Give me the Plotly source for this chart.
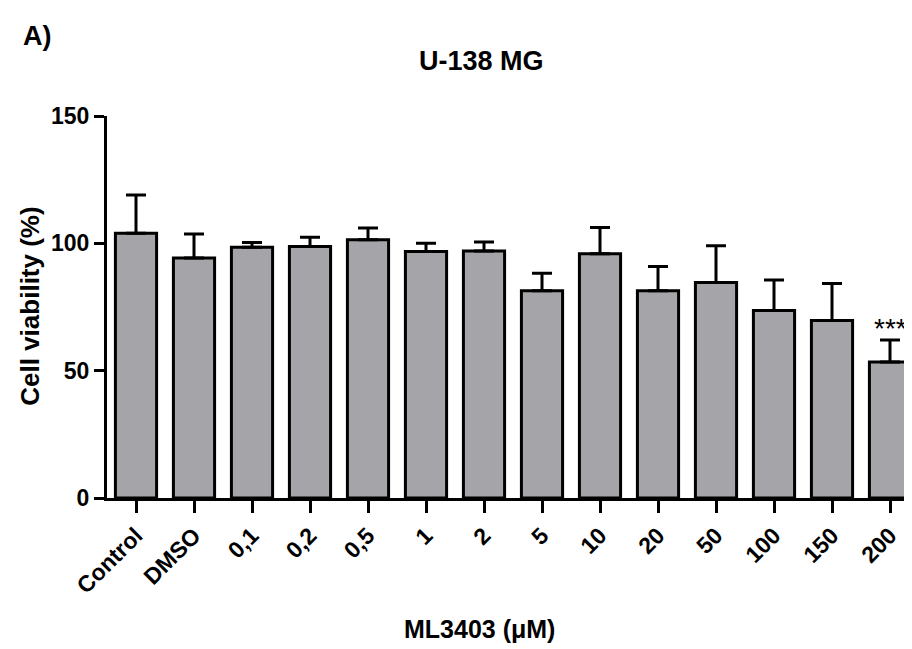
import plotly.graph_objects as go

categories = ["Control", "DMSO", "0,1", "0,2", "0,5", "1", "2", "5", "10", "20", "50", "100", "150", "200"]
viability = [104.0, 94.2, 98.5, 98.8, 101.4, 96.8, 97.0, 81.4, 95.9, 81.4, 84.6, 73.6, 69.7, 53.4]
sem = [15.0, 9.5, 1.8, 3.6, 4.6, 3.2, 3.5, 6.9, 10.3, 9.5, 14.5, 12.0, 14.5, 8.6]
y_ticks = [0, 50, 100, 150]
significance = {"200": "***"}

FONT = "Liberation Sans, Arial, sans-serif"
W, H = 912, 649
OFF = 8  # browser body margin
L, R, T = 99, 0, 108
B = H - 490.5
pw = W - L - R
ph = H - T - B
cat_px = 58.0

def px_x(px):
    return (px - OFF - L) / pw

def px_y(py):
    return (H - B - (py - OFF)) / ph

fig = go.Figure()
fig.add_trace(go.Bar(
    x=categories,
    y=viability,
    width=0.71,
    marker=dict(color="#a5a4a9", line=dict(color="black", width=3)),
    error_y=dict(type="data", symmetric=False, array=sem,
                 arrayminus=[0] * len(sem), color="black", thickness=3, width=10),
    showlegend=False,
))

annotations = []
for cat, txt in significance.items():
    i = categories.index(cat)
    annotations.append(dict(x=i, y=viability[i] + sem[i], xref="x", yref="y",
                            text=txt, showarrow=False, yanchor="bottom", yshift=-6,
                            font=dict(family=FONT, size=28, color="black")))

annotations += [
    dict(text="A)", x=px_x(37), y=px_y(36), xref="paper", yref="paper", showarrow=False,
         xanchor="center", yanchor="middle",
         font=dict(family=FONT, size=27, color="black", weight="bold")),
    dict(text="U-138 MG", x=px_x(481), y=px_y(61), xref="paper", yref="paper", showarrow=False,
         xanchor="center", yanchor="middle",
         font=dict(family=FONT, size=27, color="black", weight="bold")),
    dict(text="ML3403 (μM)", x=px_x(479), y=px_y(630), xref="paper", yref="paper", showarrow=False,
         xanchor="center", yanchor="middle",
         font=dict(family=FONT, size=25, color="black", weight="bold")),
    dict(text="Cell viability (%)", x=px_x(30), y=px_y(307), xref="paper", yref="paper", showarrow=False,
         xanchor="center", yanchor="middle", textangle=-90,
         font=dict(family=FONT, size=26, color="black", weight="bold")),
]

fig.update_layout(
    width=W, height=H,
    margin=dict(l=L, r=R, t=T, b=B, pad=0),
    paper_bgcolor="white", plot_bgcolor="white",
    annotations=annotations,
)
fig.update_xaxes(
    type="category", range=[-0.5, -0.5 + pw / cat_px],
    showline=True, linecolor="black", linewidth=3,
    ticks="outside", ticklen=12, tickwidth=3, tickcolor="black",
    tickangle=-45, showgrid=False, zeroline=False, automargin=False,
    tickfont=dict(family=FONT, size=23, color="black", weight="bold"),
)
fig.update_yaxes(
    range=[0, 150], tickvals=y_ticks,
    showline=True, linecolor="black", linewidth=3,
    ticks="outside", ticklen=10, tickwidth=3, tickcolor="black",
    showgrid=False, zeroline=False, automargin=False,
    tickfont=dict(family=FONT, size=23, color="black", weight="bold"),
)

fig.write_html("out.html")
